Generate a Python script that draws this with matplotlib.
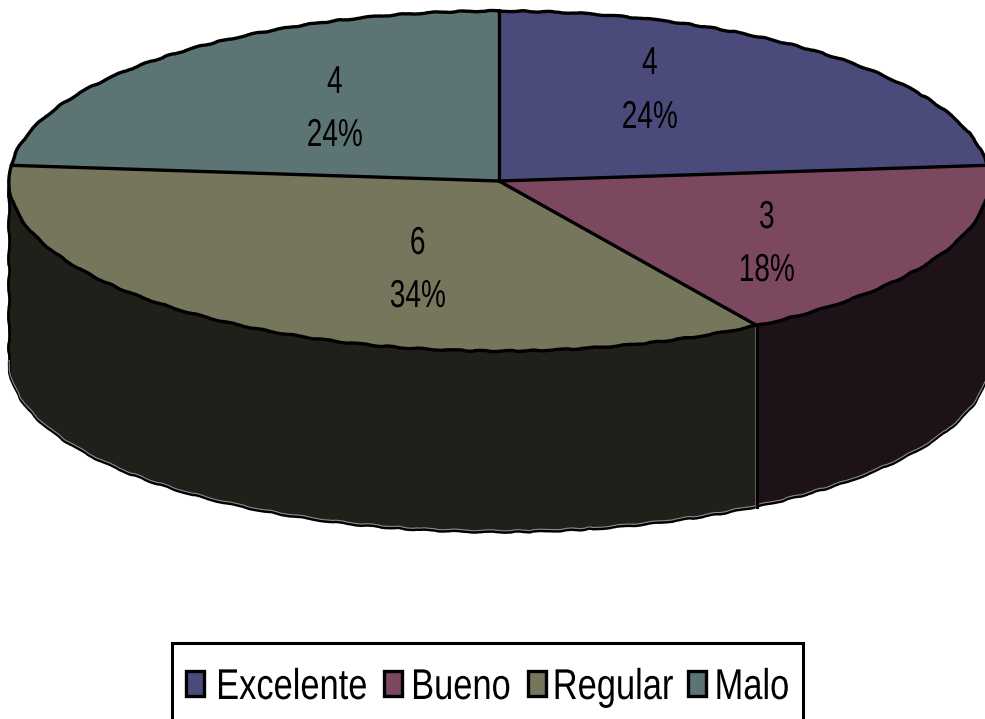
import numpy as np
import matplotlib
matplotlib.use('Agg')
import matplotlib.pyplot as plt
from matplotlib.patches import Polygon, Rectangle
from matplotlib.patheffects import AbstractPathEffect
from matplotlib.transforms import Affine2D

plt.rcParams['font.family'] = ['Liberation Sans', 'DejaVu Sans']

categories = ['Excelente', 'Bueno', 'Regular', 'Malo']
values = [4, 3, 6, 4]
percent_labels = ['24%', '18%', '34%', '24%']
top_colors = ['#4b4b7b', '#7c4860', '#76765c', '#5c7474']
side_colors = [None, '#1e1219', '#1f2019', None]

W, H = 985, 719
cx, cy = 499, 181     # centre of the top ellipse, pixels
rx, ry = 490, 170     # ellipse radii, pixels
depth = 181           # height of the cylinder wall, pixels
WOBBLE = (0.55, 50, 6)


class Squeeze(AbstractPathEffect):
    """Narrow a text horizontally around its own middle."""
    def __init__(self, sx):
        super().__init__()
        self.sx = sx

    def draw_path(self, renderer, gc, tpath, affine, rgbFace=None):
        xs = tpath.vertices[:, 0]
        m = (xs.min() + xs.max()) / 2
        tr = Affine2D().translate(-m, 0).scale(self.sx, 1).translate(m, 0) + affine
        renderer.draw_path(gc, tpath, tr, rgbFace)


def px(x, y):
    return (x - cx) / rx, (cy - y) / ry


fig = plt.figure(figsize=(W / 100, H / 100), dpi=100, facecolor='white')
ax = fig.add_axes([0, 0, 1, 1])

wedges, _ = ax.pie(values, colors=top_colors, startangle=90, counterclock=False,
                   wedgeprops={'edgecolor': 'none', 'linewidth': 0, 'zorder': 2})
# squash the pie into an ellipse
ax.set_aspect('auto')
ax.set_xlim(-cx / rx, (W - cx) / rx)
ax.set_ylim(-(H - cy) / ry, cy / ry)
ax.axis('off')

# wall below the front half of the rim
t = depth / ry
bounds = np.cumsum([0] + values) / sum(values) * 360
for i, col in enumerate(side_colors):
    if col is None:
        continue
    th = np.radians(np.linspace(max(bounds[i], 90), min(bounds[i + 1], 270), 120))
    xs, ys = np.sin(th), np.cos(th)
    pts = np.vstack([np.column_stack([xs, ys]), np.column_stack([xs[::-1], ys[::-1] - t])])
    ax.add_patch(Polygon(pts, closed=True, facecolor=col, edgecolor='none', zorder=1))

# outlines: straight slice borders, slightly uneven rims
for a in np.radians(bounds[:-1]):
    ax.plot([0, np.sin(a)], [0, np.cos(a)], color='black', lw=2.4, zorder=4,
            solid_capstyle='round')

th = np.radians(np.linspace(0, 360, 721))
line, = ax.plot(np.sin(th), np.cos(th), color='black', lw=2.4, zorder=3)
line.set_sketch_params(*WOBBLE)

th = np.radians(np.linspace(90, 270, 361))
bx = np.concatenate([[1], np.sin(th), [-1]])
by = np.concatenate([[0], np.cos(th) - t, [0]])
edge_up = 1.6 / ry
light, = ax.plot(np.sin(th), np.cos(th) - t + edge_up, color='#8c8c8c', lw=0.8, zorder=1.6)
light.set_sketch_params(*WOBBLE)
line, = ax.plot(bx, by, color='black', lw=2.0, zorder=1.5)
line.set_sketch_params(*WOBBLE)

# front seam between the two visible walls
a = np.radians(bounds[2])
ax.plot([np.sin(a)] * 2, [np.cos(a), np.cos(a) - t], color='black', lw=2.2, zorder=1.7)
ax.plot([np.sin(a) - 1.5 / rx] * 2, [np.cos(a), np.cos(a) - t], color='#6e6e66', lw=0.6, zorder=1.6)

# value and percentage over each slice
label_pos = [(650, 74, 128), (767, 228, 281), (418, 254, 307), (335, 93, 146)]
narrow = [Squeeze(0.72)]
for v, p, (x, y1, y2) in zip(values, percent_labels, label_pos):
    ax.text(*px(x, y1), str(v), fontsize=28, ha='center', va='baseline',
            color='black', zorder=6, path_effects=narrow)
    ax.text(*px(x, y2), p, fontsize=28, ha='center', va='baseline',
            color='black', zorder=6, path_effects=narrow)

# legend box, runs off the bottom edge
x0, y0 = px(172, 643)
x1, y1 = px(803, H + 20)
ax.add_patch(Rectangle((x0, y1), x1 - x0, y0 - y1, facecolor='white', edgecolor='black',
                       linewidth=2.2, zorder=5))
square_x = [185, 383, 527, 687]
text_x = [292, 461, 613, 752]
for name, col, sx, tx in zip(categories, top_colors, square_x, text_x):
    a0, b0 = px(sx + 1, 696)
    a1, b1 = px(sx + 19, 671)
    ax.add_patch(Rectangle((a0, b0), a1 - a0, b1 - b0, facecolor=col, edgecolor='black',
                           linewidth=2.4, zorder=6))
    ax.text(*px(tx, 699), name, fontsize=31, ha='center', va='baseline', color='black',
            zorder=6, path_effects=[Squeeze(0.8)])

fig.savefig('out.png', dpi=100)
